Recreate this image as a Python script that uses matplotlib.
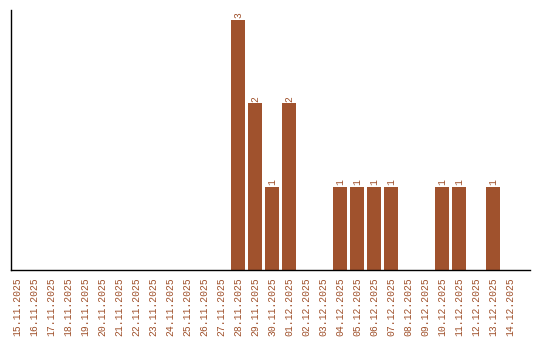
import matplotlib
matplotlib.use("Agg")
import matplotlib.pyplot as plt

# datos del gráfico
fechas = ["15.11.2025", "16.11.2025", "17.11.2025", "18.11.2025", "19.11.2025",
          "20.11.2025", "21.11.2025", "22.11.2025", "23.11.2025", "24.11.2025",
          "25.11.2025", "26.11.2025", "27.11.2025", "28.11.2025", "29.11.2025",
          "30.11.2025", "01.12.2025", "02.12.2025", "03.12.2025", "04.12.2025",
          "05.12.2025", "06.12.2025", "07.12.2025", "08.12.2025", "09.12.2025",
          "10.12.2025", "11.12.2025", "12.12.2025", "13.12.2025", "14.12.2025"]
valores = [0, 0, 0, 0, 0, 0, 0, 0, 0, 0, 0, 0, 0, 3, 2,
           1, 2, 0, 0, 1, 1, 1, 1, 0, 0, 1, 1, 0, 1, 0]

color = "#A0522D"
fuente = "Liberation Mono"

fig = plt.figure(figsize=(5.4, 3.4), dpi=100)
ax = fig.add_axes([11 / 540, 70 / 340, 519 / 540, 260 / 340])

x = list(range(len(fechas)))
ax.bar(x, valores, width=0.8, color=color)

for xi, v in zip(x, valores):
    if v > 0:
        ax.text(xi, v + 0.02, str(v), rotation=90, ha="center", va="bottom",
                color=color, fontsize=7, family=fuente)

ax.set_xlim(-0.35, 29 + 1.18)
ax.set_ylim(0, 3.12)
ax.set_xticks(x)
ax.set_xticklabels(fechas, rotation=90, color=color, fontsize=7, family=fuente)
ax.set_yticks([])
ax.tick_params(axis="x", length=0, pad=5)

for lado in ["top", "right"]:
    ax.spines[lado].set_visible(False)
ax.spines["left"].set_linewidth(1.0)
ax.spines["bottom"].set_linewidth(1.0)

fig.savefig("out.png", dpi=100)
